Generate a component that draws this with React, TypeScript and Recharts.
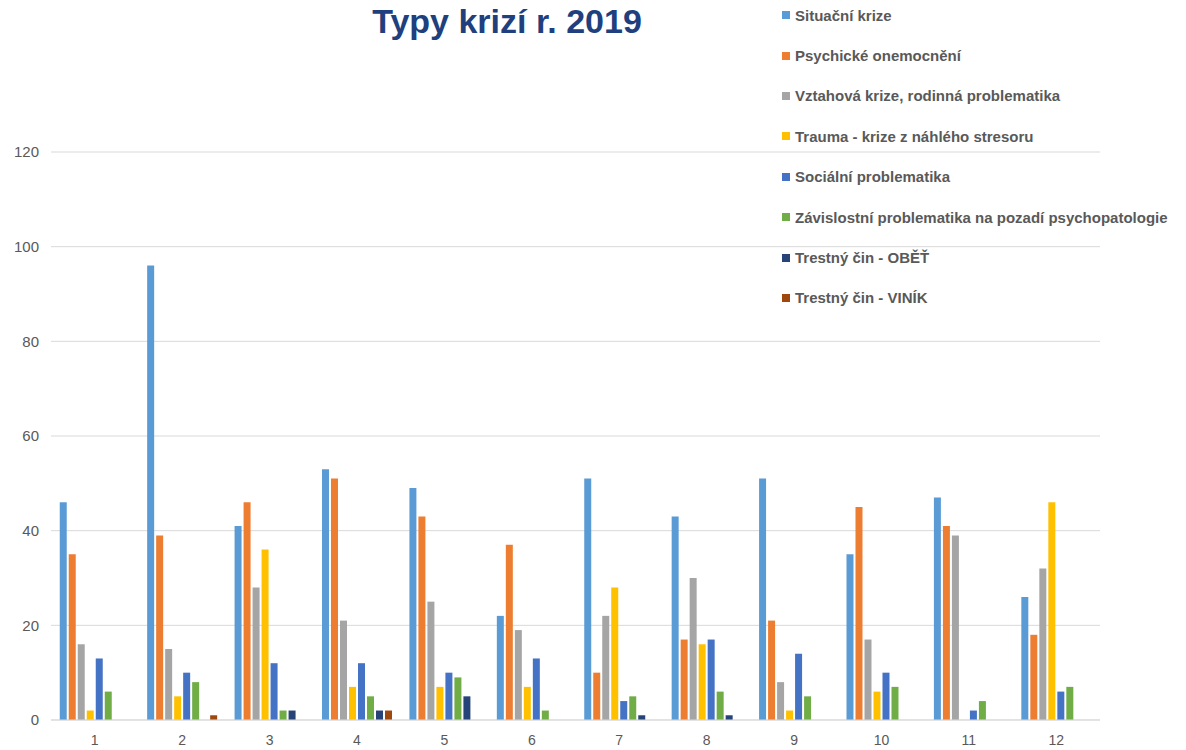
import React from "react";
import { BarChart, Bar, XAxis, YAxis, CartesianGrid } from "recharts";

const months = ["1", "2", "3", "4", "5", "6", "7", "8", "9", "10", "11", "12"];

const situacni = [46, 96, 41, 53, 49, 22, 51, 43, 51, 35, 47, 26];
const psychicke = [35, 39, 46, 51, 43, 37, 10, 17, 21, 45, 41, 18];
const vztahova = [16, 15, 28, 21, 25, 19, 22, 30, 8, 17, 39, 32];
const trauma = [2, 5, 36, 7, 7, 7, 28, 16, 2, 6, 0, 46];
const socialni = [13, 10, 12, 12, 10, 13, 4, 17, 14, 10, 2, 6];
const zavislostni = [6, 8, 2, 5, 9, 2, 5, 6, 5, 7, 4, 7];
const obet = [0, 0, 2, 2, 5, 0, 1, 1, 0, 0, 0, 0];
const vinik = [0, 1, 0, 2, 0, 0, 0, 0, 0, 0, 0, 0];

const yTicks = [0, 20, 40, 60, 80, 100, 120];

const series = [
  { key: "situacni", name: "Situační krize", color: "#5B9BD5", values: situacni },
  { key: "psychicke", name: "Psychické onemocnění", color: "#ED7D31", values: psychicke },
  { key: "vztahova", name: "Vztahová krize, rodinná problematika", color: "#A5A5A5", values: vztahova },
  { key: "trauma", name: "Trauma - krize z náhlého stresoru", color: "#FFC000", values: trauma },
  { key: "socialni", name: "Sociální problematika", color: "#4472C4", values: socialni },
  { key: "zavislostni", name: "Závislostní problematika na pozadí psychopatologie", color: "#70AD47", values: zavislostni },
  { key: "obet", name: "Trestný čin - OBĚŤ", color: "#264478", values: obet },
  { key: "vinik", name: "Trestný čin - VINÍK", color: "#9E480E", values: vinik },
];

// one row per month, one field per crisis type
const data = months.map((m, i) => {
  const row: Record<string, string | number> = { month: m };
  series.forEach((s) => {
    row[s.key] = s.values[i];
  });
  return row;
});

const font = "'Liberation Sans', Arial, sans-serif";

// legend kept outside the chart so it doesn't eat plot width (and keeps series order)
function LegendList() {
  return (
    <ul
      style={{
        position: "absolute",
        left: 782,
        top: -5,
        listStyle: "none",
        margin: 0,
        padding: 0,
        zIndex: 2,
      }}
    >
      {series.map((s) => (
        <li
          key={s.key}
          style={{
            height: 40.4,
            display: "flex",
            alignItems: "center",
            whiteSpace: "nowrap",
          }}
        >
          <span
            style={{
              display: "inline-block",
              width: 8,
              height: 8,
              background: s.color,
              marginRight: 5,
            }}
          />
          <span
            style={{
              fontFamily: font,
              fontWeight: 700,
              fontSize: 15,
              color: "#595959",
            }}
          >
            {s.name}
          </span>
        </li>
      ))}
    </ul>
  );
}

export default function App() {
  return (
    <div
      style={{
        position: "absolute",
        left: 0,
        top: 0,
        width: 1186,
        height: 750,
        background: "#fff",
        overflow: "hidden",
      }}
    >
      <div
        style={{
          position: "absolute",
          left: 207,
          top: 2,
          width: 600,
          textAlign: "center",
          fontFamily: font,
          fontWeight: 700,
          fontSize: 34,
          lineHeight: "38px",
          color: "#203F7E",
          zIndex: 2,
        }}
      >
        Typy krizí r. 2019
      </div>
      <LegendList />
      <BarChart
        width={1186}
        height={750}
        data={data}
        margin={{ top: 152, right: 86, bottom: 0, left: 0 }}
        barCategoryGap="10%"
        barGap={2}
      >
        <CartesianGrid vertical={false} stroke="#D9D9D9" />
        <XAxis
          dataKey="month"
          height={30}
          axisLine={{ stroke: "#D9D9D9" }}
          tickLine={false}
          tickSize={0}
          tickMargin={15}
          tick={{ fill: "#595959", fontSize: 14, fontFamily: font }}
        />
        <YAxis
          width={51}
          domain={[0, 120]}
          ticks={yTicks}
          axisLine={false}
          tickLine={false}
          tickSize={0}
          tickMargin={12}
          tick={{ fill: "#595959", fontSize: 15, fontFamily: font }}
        />
        {series.map((s) => (
          <Bar
            key={s.key}
            dataKey={s.key}
            name={s.name}
            fill={s.color}
            isAnimationActive={false}
          />
        ))}
      </BarChart>
    </div>
  );
}
